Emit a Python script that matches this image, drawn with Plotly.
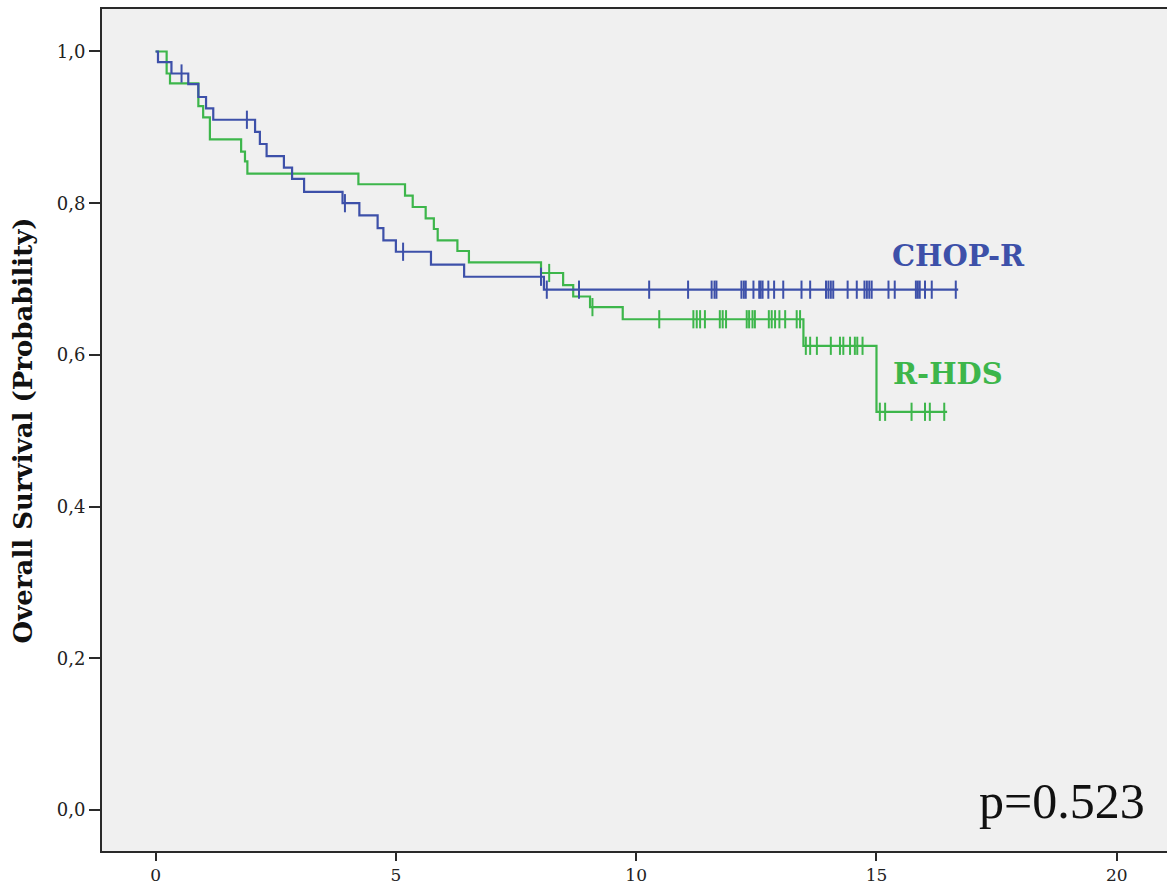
import plotly.graph_objects as go

# Kaplan-Meier overall survival, two treatment arms (time in years)
chop_event_times = [0.05, 0.33, 0.68, 0.89, 1.05, 1.20, 2.07, 2.17, 2.31, 2.67,
                    2.84, 3.09, 3.89, 4.24, 4.62, 4.74, 5.00, 5.73, 6.42, 8.08]
chop_survival = [0.986, 0.971, 0.957, 0.940, 0.925, 0.910, 0.894, 0.878, 0.862, 0.847,
                 0.832, 0.815, 0.800, 0.784, 0.767, 0.751, 0.736, 0.719, 0.703, 0.686]
chop_censored = [0.54, 1.90, 3.94, 5.15, 8.02, 8.14, 8.81, 10.27, 11.08, 11.57,
                 11.63, 11.67, 12.19, 12.24, 12.28, 12.44, 12.56, 12.59, 12.63, 12.75,
                 12.87, 13.06, 13.44, 13.62, 13.95, 14.00, 14.05, 14.10, 14.40, 14.59,
                 14.75, 14.80, 14.85, 14.90, 15.25, 15.38, 15.82, 15.86, 15.90, 16.01,
                 16.15, 16.65]
chop_followup_end = 16.70

rhds_event_times = [0.23, 0.30, 0.89, 0.99, 1.13, 1.78, 1.86, 1.91, 4.22, 5.19,
                    5.35, 5.62, 5.79, 5.87, 6.28, 6.52, 8.02, 8.48, 8.69, 9.04,
                    9.72, 13.48, 15.00]
rhds_survival = [0.971, 0.958, 0.928, 0.913, 0.884, 0.868, 0.855, 0.839, 0.825, 0.810,
                 0.795, 0.780, 0.766, 0.751, 0.737, 0.722, 0.708, 0.692, 0.677, 0.663,
                 0.647, 0.612, 0.525]
rhds_censored = [8.19, 9.09, 10.48, 11.19, 11.26, 11.33, 11.43, 11.74, 11.80, 11.87,
                 12.30, 12.35, 12.42, 12.47, 12.76, 12.82, 12.89, 12.98, 13.10, 13.34,
                 13.41, 13.53, 13.62, 13.76, 14.05, 14.24, 14.31, 14.45, 14.55, 14.60,
                 14.71, 15.07, 15.18, 15.73, 16.01, 16.11, 16.41]
rhds_followup_end = 16.47

x_ticks = [0, 5, 10, 15, 20]
y_ticks = [0.0, 0.2, 0.4, 0.6, 0.8, 1.0]
y_tick_labels = ["0,0", "0,2", "0,4", "0,6", "0,8", "1,0"]
p_value_text = "p=0.523"

BLUE = "#3d50a9"
GREEN = "#3db64b"


def step_curve(times, surv, end):
    xs = [0.0] + list(times) + [end]
    ys = [1.0] + list(surv) + [surv[-1]]
    return xs, ys


def surv_at(t, times, surv):
    s = 1.0
    for ti, si in zip(times, surv):
        if ti <= t:
            s = si
    return s


fig = go.Figure()

for times, surv, cens, end, color in [
    (rhds_event_times, rhds_survival, rhds_censored, rhds_followup_end, GREEN),
    (chop_event_times, chop_survival, chop_censored, chop_followup_end, BLUE),
]:
    xs, ys = step_curve(times, surv, end)
    fig.add_trace(go.Scatter(x=xs, y=ys, mode="lines", line=dict(color=color, width=2.2, shape="hv"),
                             hoverinfo="skip", showlegend=False))
    fig.add_trace(go.Scatter(x=cens, y=[surv_at(c, times, surv) for c in cens], mode="markers",
                             marker=dict(symbol="line-ns", size=13,
                                         line=dict(color=color, width=2)),
                             hoverinfo="skip", showlegend=False))

fig.add_annotation(x=16.70, y=0.730, text="<b>CHOP-R</b>", showarrow=False,
                   font=dict(family="DejaVu Serif", size=29, color=BLUE))
fig.add_annotation(x=16.49, y=0.575, text="<b>R-HDS</b>", showarrow=False,
                   font=dict(family="DejaVu Serif", size=29, color=GREEN))
fig.add_annotation(x=18.86, y=0.012, text=p_value_text, showarrow=False,
                   font=dict(family="Liberation Serif", size=50, color="#111111"))
fig.add_annotation(xref="paper", x=-0.0745, y=0.50, text="<b>Overall Survival (Probability)</b>",
                   textangle=-90, showarrow=False, xanchor="center", yanchor="middle",
                   font=dict(family="DejaVu Serif", size=26, color="#111111"))

fig.update_layout(
    width=1167, height=889,
    margin=dict(l=102, r=0, t=9, b=38),
    paper_bgcolor="white",
    plot_bgcolor="#f0f0f0",
    showlegend=False,
)
fig.update_xaxes(range=[-1.115, 21.045], tickvals=x_ticks, ticks="outside", ticklen=8,
                 tickwidth=2, tickcolor="#2a2a2a", showgrid=False, zeroline=False,
                 showline=True, linecolor="#2a2a2a", linewidth=2, mirror=True,
                 tickfont=dict(family="DejaVu Serif", size=17, color="#222222"))
fig.update_yaxes(range=[-0.054, 1.056], tickvals=y_ticks, ticktext=y_tick_labels,
                 ticks="outside", ticklen=11, tickwidth=2, tickcolor="#2a2a2a",
                 showgrid=False, zeroline=False, showline=True, linecolor="#2a2a2a",
                 linewidth=2, tickfont=dict(family="DejaVu Serif", size=18, color="#222222"))

fig.write_html("out.html")
